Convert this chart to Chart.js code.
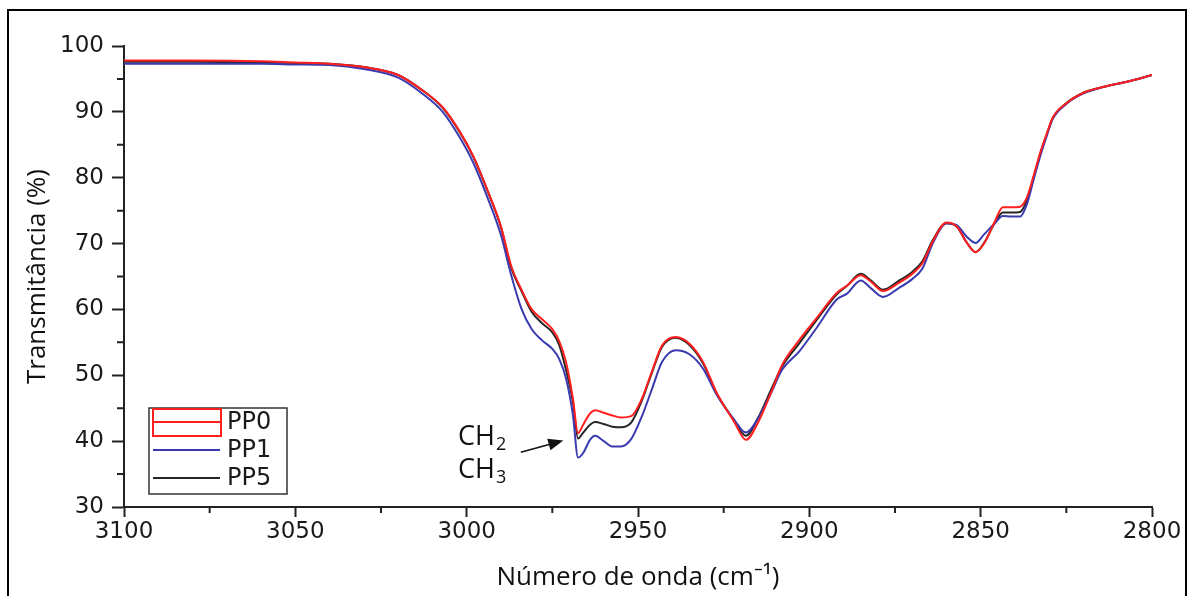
<!DOCTYPE html>
<html>
<head>
<meta charset="utf-8">
<script src="https://cdn.jsdelivr.net/npm/chart.js@4"></script>
<style>
  html, body { margin: 0; padding: 0; background: #fff; }
  #wrap { width: 1192px; height: 596px; }
</style>
</head>
<body>
<div id="wrap"><canvas id="ftirChart"></canvas></div>
<script>
// wavenumber (cm-1) and transmittance (%)
const wavenumber = [
  3100, 3080, 3060, 3050, 3040, 3030, 3020, 3013, 3007, 3002,
  2998, 2994, 2990, 2987, 2984, 2981, 2978, 2975, 2973, 2971,
  2969, 2967.5, 2966, 2964, 2962.5, 2960, 2957.5, 2955, 2952, 2949,
  2946, 2943, 2939, 2935, 2931, 2927, 2922, 2918.5, 2915, 2911,
  2908, 2903, 2898, 2892, 2889, 2885, 2882, 2878.5, 2874, 2870,
  2867, 2864, 2860, 2857, 2854, 2851.5, 2849, 2846, 2843.5, 2841,
  2838.5, 2836.5, 2834.5, 2832.5, 2830.5, 2829, 2825, 2820, 2814, 2807, 2800
];
const pp0 = [
  97.8, 97.8, 97.7, 97.5, 97.3, 96.8, 95.6, 93.3, 90.7, 87.0,
  83.2, 78.2, 72.6, 66.6, 63.0, 60.0, 58.5, 57.0, 55.2, 52.0,
  46.5, 41.2, 42.5, 44.2, 44.7, 44.3, 43.9, 43.6, 43.8, 46.3,
  50.5, 54.5, 55.8, 54.8, 52.0, 47.3, 43.0, 40.2, 42.8, 47.6,
  51.5, 55.3, 58.6, 62.5, 63.6, 65.2, 64.2, 62.8, 64.0, 65.4,
  67.0, 70.3, 73.2, 72.6, 70.1, 68.7, 70.0, 73.2, 75.5, 75.5,
  75.6, 77.0, 80.4, 84.0, 87.0, 89.1, 91.3, 92.9, 93.8, 94.6, 95.6
];
const pp1 = [
  97.3, 97.3, 97.3, 97.2, 97.1, 96.5, 95.2, 92.8, 90.0, 86.1,
  82.2, 77.1, 71.3, 65.2, 60.1, 57.0, 55.3, 54.0, 52.5, 49.5,
  44.0, 37.5, 38.2, 40.2, 40.8, 40.0, 39.2, 39.2, 40.3, 43.6,
  47.8, 52.0, 53.8, 53.2, 51.0, 47.0, 43.3, 41.3, 43.4, 47.5,
  50.8, 53.6, 57.1, 61.5, 62.4, 64.4, 63.2, 61.9, 63.2, 64.6,
  66.2, 70.0, 73.1, 72.8, 71.0, 70.1, 71.4, 73.0, 74.2, 74.1,
  74.1, 76.0, 79.8, 83.5, 86.7, 88.9, 91.2, 92.8, 93.8, 94.6, 95.6
];
const pp5 = [
  97.6, 97.6, 97.5, 97.4, 97.3, 96.8, 95.6, 93.3, 90.6, 86.9,
  83.1, 78.1, 72.5, 66.3, 62.8, 59.6, 57.9, 56.5, 54.6, 50.8,
  46.0, 40.4, 41.3, 42.5, 42.9, 42.6, 42.2, 42.1, 42.8, 46.0,
  50.3, 54.3, 55.7, 54.6, 51.8, 47.2, 43.2, 40.8, 43.5, 48.0,
  51.3, 54.8, 58.3, 62.3, 63.6, 65.4, 64.4, 63.0, 64.3, 65.7,
  67.3, 70.5, 73.1, 72.6, 70.1, 68.7, 70.1, 73.0, 74.7, 74.7,
  74.8, 76.6, 80.1, 83.8, 86.9, 89.0, 91.3, 92.9, 93.8, 94.6, 95.6
];
const seriesNames = ["PP0", "PP1", "PP5"];
const seriesColors = ["#ff1f1f", "#3a3ab0", "#262626"];
const xTicks = [3100, 3050, 3000, 2950, 2900, 2850, 2800];
const yTicks = [30, 40, 50, 60, 70, 80, 90, 100];

const toPoints = (ys) => ys.map((v, i) => ({ x: wavenumber[i], y: v }));
const tickFont = { family: "DejaVu Sans", size: 23 };
const titleFont = { family: "Open Sans", size: 26 };

// outer frame, minor ticks, boxed legend, CH2/CH3 label with arrow
const decorations = {
  id: "decorations",
  afterDraw(chart) {
    const { ctx, chartArea } = chart;
    const xs = chart.scales.x;
    const ys = chart.scales.y;
    ctx.save();

    ctx.strokeStyle = "#000";
    ctx.lineWidth = 2;
    ctx.strokeRect(8, 10, 1178, 600);

    // minor ticks halfway between labelled ones
    ctx.strokeStyle = "#222";
    ctx.lineWidth = 2;
    ctx.beginPath();
    for (let i = 0; i < xTicks.length - 1; i++) {
      const px = xs.getPixelForValue((xTicks[i] + xTicks[i + 1]) / 2);
      ctx.moveTo(px, chartArea.bottom);
      ctx.lineTo(px, chartArea.bottom + 6);
    }
    for (let i = 0; i < yTicks.length - 1; i++) {
      const py = ys.getPixelForValue((yTicks[i] + yTicks[i + 1]) / 2);
      ctx.moveTo(chartArea.left, py);
      ctx.lineTo(chartArea.left - 7, py);
    }
    ctx.stroke();

    // legend
    const lx = chartArea.left + 25, ly = chartArea.top + 362;
    ctx.strokeStyle = "#333";
    ctx.lineWidth = 1.5;
    ctx.strokeRect(lx, ly, 138, 86);
    ctx.font = "24px 'DejaVu Sans'";
    ctx.textBaseline = "middle";
    ctx.textAlign = "left";
    chart.data.datasets.forEach((ds, i) => {
      const cy = ly + 14 + i * 28;
      ctx.strokeStyle = ds.borderColor;
      ctx.lineWidth = 2;
      if (i === 0) {
        ctx.strokeRect(lx + 4, ly + 1, 68, 27);
        ctx.beginPath();
        ctx.moveTo(lx + 4, ly + 14);
        ctx.lineTo(lx + 72, ly + 14);
        ctx.stroke();
      } else {
        ctx.beginPath();
        ctx.moveTo(lx + 4, cy);
        ctx.lineTo(lx + 71, cy);
        ctx.stroke();
      }
      ctx.fillStyle = "#1a1a1a";
      ctx.fillText(ds.label, lx + 78, cy + 1);
    });

    // band label
    ctx.fillStyle = "#111";
    ctx.textBaseline = "alphabetic";
    const tx = xs.getPixelForValue(3002.5);
    [["2", 39.4], ["3", 34.4]].forEach(([sub, val]) => {
      const by = ys.getPixelForValue(val);
      ctx.font = "27px 'Open Sans'";
      ctx.fillText("CH", tx, by);
      const w = ctx.measureText("CH").width;
      ctx.font = "18px 'Open Sans'";
      ctx.fillText(sub, tx + w + 1, by + 5);
    });

    // arrow
    const ax0 = xs.getPixelForValue(2984.2), ay0 = ys.getPixelForValue(38.3);
    const ax1 = xs.getPixelForValue(2971.8), ay1 = ys.getPixelForValue(40.1);
    const ang = Math.atan2(ay1 - ay0, ax1 - ax0);
    ctx.strokeStyle = "#111";
    ctx.lineWidth = 1.5;
    ctx.beginPath();
    ctx.moveTo(ax0, ay0);
    ctx.lineTo(ax1 - 10 * Math.cos(ang), ay1 - 10 * Math.sin(ang));
    ctx.stroke();
    ctx.beginPath();
    ctx.moveTo(ax1, ay1);
    ctx.lineTo(ax1 - 15 * Math.cos(ang) + 6 * Math.sin(ang), ay1 - 15 * Math.sin(ang) - 6 * Math.cos(ang));
    ctx.lineTo(ax1 - 15 * Math.cos(ang) - 6 * Math.sin(ang), ay1 - 15 * Math.sin(ang) + 6 * Math.cos(ang));
    ctx.closePath();
    ctx.fill();

    ctx.restore();
  }
};

new Chart(document.getElementById("ftirChart"), {
  type: "line",
  data: {
    datasets: [pp0, pp1, pp5].map((ys, i) => ({
      label: seriesNames[i],
      data: toPoints(ys),
      borderColor: seriesColors[i],
      borderWidth: 2,
      pointRadius: 0,
      fill: false,
      cubicInterpolationMode: "monotone"
    }))
  },
  options: {
    responsive: true,
    maintainAspectRatio: false,
    animation: false,
    layout: { padding: { top: 46, right: 40, left: 0, bottom: 0 } },
    plugins: { legend: { display: false }, tooltip: { enabled: false } },
    scales: {
      x: {
        type: "linear",
        reverse: true,
        min: 2800,
        max: 3100,
        afterBuildTicks: (s) => { s.ticks = xTicks.map((v) => ({ value: v })); },
        afterFit: (s) => { s.height = 89; },
        border: { color: "#222", width: 2 },
        grid: { drawOnChartArea: false, tickLength: 10, tickColor: "#222", tickWidth: 2 },
        ticks: { padding: 1, maxRotation: 0, autoSkip: false, font: tickFont, color: "#1a1a1a", callback: (v) => String(v) },
        title: { display: true, text: "Número de onda (cm⁻¹)", font: titleFont, color: "#111", padding: { bottom: 3 } }
      },
      y: {
        min: 30,
        max: 100,
        afterBuildTicks: (s) => { s.ticks = yTicks.map((v) => ({ value: v })); },
        afterFit: (s) => { s.width = 124; },
        border: { color: "#222", width: 2 },
        grid: { drawOnChartArea: false, tickLength: 12, tickColor: "#222", tickWidth: 2 },
        ticks: { padding: 8, font: tickFont, color: "#1a1a1a", callback: (v) => String(v) },
        title: { display: true, text: "Transmitância (%)", font: titleFont, color: "#111", padding: { top: 22 } }
      }
    }
  },
  plugins: [decorations]
});
</script>
</body>
</html>
